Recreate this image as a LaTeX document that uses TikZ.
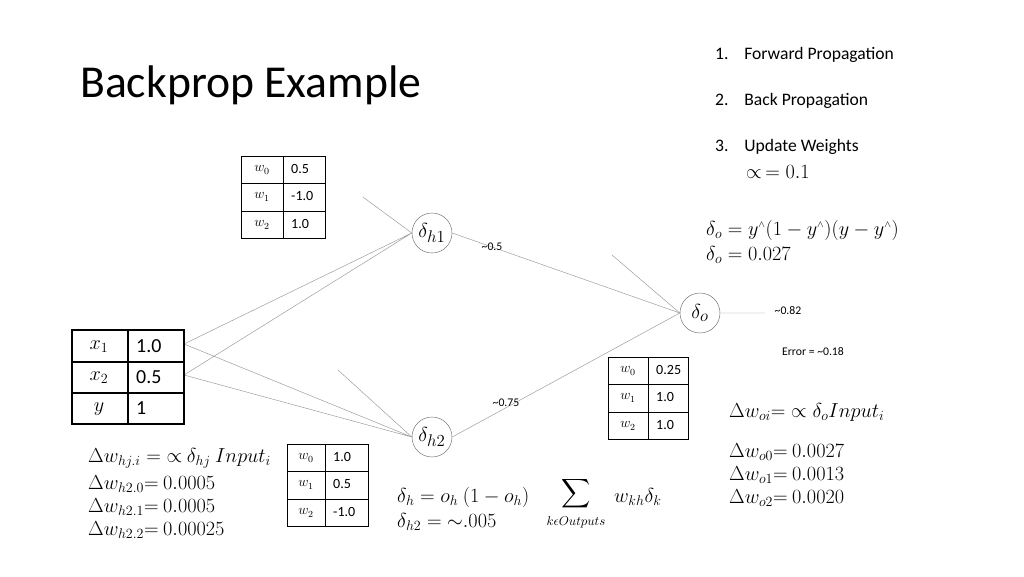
\documentclass[tikz,border=0pt]{standalone}
\usepackage{fontspec}
\setmainfont{Carlito}
\usepackage{amsmath}
\begin{document}
\begin{tikzpicture}[x=0.03cm,y=-0.03cm,
  neuron/.style={circle,draw=black!55,fill=white,minimum size=40*0.03cm,inner sep=0pt,font=\fontsize{19}{21}\selectfont},
  wire/.style={draw=black!40,line width=0.4pt},
  lbl/.style={font=\fontsize{10}{11}\selectfont,inner sep=0pt},
  eq/.style={font=\fontsize{17}{19}\selectfont,anchor=west,inner sep=0pt},
  tcell/.style={font=\fontsize{12}{13}\selectfont,inner sep=0pt},
  bcell/.style={font=\fontsize{17}{19}\selectfont,inner sep=0pt}]
\useasboundingbox (0,0) rectangle (1024,576);
% title and list
\node[anchor=west,font=\fontsize{39}{43}\selectfont,inner sep=0pt] (title) at (80,85) {Backprop Example};
\node[anchor=west,font=\fontsize{15}{17}\selectfont,inner sep=0pt] (l1) at (715,55) {1.\hspace{0.9em}Forward Propagation};
\node[anchor=west,font=\fontsize{15}{17}\selectfont,inner sep=0pt] (l2) at (715,101) {2.\hspace{0.9em}Back Propagation};
\node[anchor=west,font=\fontsize{15}{17}\selectfont,inner sep=0pt] (l3) at (715,147) {3.\hspace{0.9em}Update Weights};
\node[eq] (alpha) at (746,172) {$\propto\,= 0.1$};
% neurons
\node[neuron] (h1) at (432,233) {$\delta_{h1}$};
\node[neuron] (h2) at (432,437) {$\delta_{h2}$};
\node[neuron] (o) at (700,313) {$\delta_{o}$};
\coordinate (in1) at (184,344);
\coordinate (in2) at (184,375);
\coordinate (s1) at (363,197);
\coordinate (s2) at (338,370);
\coordinate (s3) at (612,255);
\coordinate (out) at (765,313);
\draw[wire] (in1) -- (h1.west) (in2) -- (h1.west) (in1) -- (h2.west) (in2) -- (h2.west);
\draw[wire] (s1) -- (h1.west) (s2) -- (h2.west) (s3) -- (o.west);
\draw[wire] (h1.east) -- (o.west) (h2.east) -- (o.west) (o.east) -- (out);
\node[lbl] (a1) at (492,247) {\string~0.5};
\node[lbl] (a2) at (506,403) {\string~0.75};
\node[lbl] (a3) at (788,311) {\string~0.82};
\node[lbl] (err) at (813,352) {Error = \string~0.18};
% input table
\draw[line width=0.9pt] (72,330) rectangle (184,424) (72,362) -- (184,362) (72,393) -- (184,393) (128,330) -- (128,424);
\node[bcell] (x1) at (99,347) {$x_1$};
\node[bcell] (x2) at (99,378) {$x_2$};
\node[bcell] (yy) at (99,409) {$y$};
\node[bcell,anchor=west] (v1) at (136,346) {1.0};
\node[bcell,anchor=west] (v2) at (136,377) {0.5};
\node[bcell,anchor=west] (v3) at (136,408) {1};
% weight tables
\newcommand{\wtable}[7]{%
 \draw[line width=0.8pt] (#1,#2) rectangle (#3,#2+82) (#1,#2+27) -- (#3,#2+27) (#1,#2+55) -- (#3,#2+55) (#4,#2) -- (#4,#2+82);
 \node[tcell] at ({(#1+#4)/2},#2+14) {$w_0$};
 \node[tcell] at ({(#1+#4)/2},#2+41) {$w_1$};
 \node[tcell] at ({(#1+#4)/2},#2+69) {$w_2$};
 \node[tcell,anchor=west] at (#4+8,#2+13) {#5};
 \node[tcell,anchor=west] at (#4+8,#2+40) {#6};
 \node[tcell,anchor=west] at (#4+8,#2+68) {#7};}
\wtable{241}{156}{325}{283}{0.5}{-1.0}{1.0}
\wtable{287}{444}{368}{325}{1.0}{0.5}{-1.0}
\wtable{608}{357}{688}{648}{0.25}{1.0}{1.0}
% equations
\node[eq] (e1) at (706,230) {$\delta_o = y^{\scriptscriptstyle\wedge}(1-y^{\scriptscriptstyle\wedge})(y-y^{\scriptscriptstyle\wedge})$};
\node[eq] (e2) at (706,255) {$\delta_o = 0.027$};
\node[eq] (e3) at (729,412) {$\Delta w_{oi}{=}\propto \delta_o Input_i$};
\node[eq] (e4) at (729,452) {$\Delta w_{o0}{=}\ 0.0027$};
\node[eq] (e5) at (729,475) {$\Delta w_{o1}{=}\ 0.0013$};
\node[eq] (e6) at (729,498) {$\Delta w_{o2}{=}\ 0.0020$};
\node[eq] (e7) at (88,458) {$\Delta w_{hj.i} ={\propto}\ \delta_{hj}\ Input_i$};
\node[eq] (e8) at (88,484) {$\Delta w_{h2.0}{=}\ 0.0005$};
\node[eq] (e9) at (88,507) {$\Delta w_{h2.1}{=}\ 0.0005$};
\node[eq] (e10) at (88,530) {$\Delta w_{h2.2}{=}\ 0.00025$};
\node[eq] (e11) at (397,497) {$\delta_h = o_h\ (1-o_h)$};
\node[eq] (e12) at (397,522) {$\delta_{h2} = {\sim}.005$};
\node[font=\fontsize{17}{19}\selectfont,inner sep=0pt] (sum) at (576,494) {$\displaystyle\sum$};
\node[font=\fontsize{11}{12}\selectfont,inner sep=0pt] (sub) at (576,522) {$k\epsilon Outputs$};
\node[eq] (e13) at (614,497) {$w_{kh}\delta_k$};
\end{tikzpicture}
\end{document}
